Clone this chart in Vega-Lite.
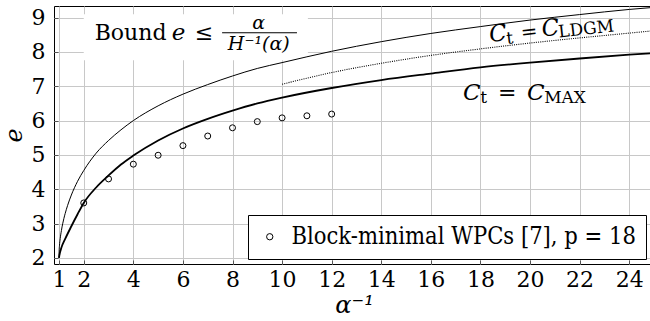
{
  "$schema": "https://vega.github.io/schema/vega-lite/v6.json",
  "width": 600,
  "height": 258,
  "autosize": {"type": "none"},
  "padding": {"left": 54, "top": 6, "right": 0, "bottom": 57},
  "background": "white",
  "config": {
    "view": {"stroke": "black", "strokeWidth": 1},
    "font": "DejaVu Serif",
    "axis": {
      "labelFont": "DejaVu Serif",
      "labelFontSize": 22,
      "labelColor": "black",
      "titleFont": "DejaVu Serif",
      "titleFontSize": 24,
      "titleFontWeight": "normal",
      "titleFontStyle": "italic",
      "titleColor": "black",
      "gridColor": "#c8c8c8",
      "gridOpacity": 1,
      "gridWidth": 1,
      "domain": false,
      "ticks": true,
      "tickSize": -4,
      "tickColor": "#555555",
      "tickWidth": 1
    }
  },
  "datasets": {
    "bound": [
      {"x": 1, "y": 2}, {"x": 1.01, "y": 2.245}, {"x": 1.02, "y": 2.35}, {"x": 1.05, "y": 2.56},
      {"x": 1.1, "y": 2.8}, {"x": 1.2, "y": 3.15}, {"x": 1.25, "y": 3.29}, {"x": 1.35, "y": 3.53},
      {"x": 1.5, "y": 3.83}, {"x": 1.75, "y": 4.23}, {"x": 2, "y": 4.545}, {"x": 2.5, "y": 5.05},
      {"x": 3, "y": 5.42}, {"x": 3.5, "y": 5.73}, {"x": 4, "y": 6.0}, {"x": 5, "y": 6.43},
      {"x": 6, "y": 6.77}, {"x": 7, "y": 7.05}, {"x": 8, "y": 7.3}, {"x": 9, "y": 7.52},
      {"x": 10, "y": 7.69}, {"x": 12, "y": 8.02}, {"x": 14, "y": 8.3}, {"x": 16, "y": 8.54},
      {"x": 18, "y": 8.74}, {"x": 20, "y": 8.93}, {"x": 22, "y": 9.09}, {"x": 24, "y": 9.24},
      {"x": 25, "y": 9.3}
    ],
    "cmax": [
      {"x": 1, "y": 2}, {"x": 1.03, "y": 2.12}, {"x": 1.1, "y": 2.3}, {"x": 1.25, "y": 2.55},
      {"x": 1.5, "y": 2.92}, {"x": 1.75, "y": 3.27}, {"x": 2, "y": 3.6}, {"x": 2.5, "y": 4.05},
      {"x": 3, "y": 4.4}, {"x": 3.5, "y": 4.72}, {"x": 4, "y": 4.98}, {"x": 5, "y": 5.42},
      {"x": 6, "y": 5.77}, {"x": 7, "y": 6.05}, {"x": 8, "y": 6.29}, {"x": 9, "y": 6.5},
      {"x": 10, "y": 6.67}, {"x": 12, "y": 6.95}, {"x": 14, "y": 7.18}, {"x": 16, "y": 7.37},
      {"x": 18, "y": 7.55}, {"x": 20, "y": 7.69}, {"x": 22, "y": 7.81}, {"x": 24, "y": 7.92},
      {"x": 25, "y": 7.97}
    ],
    "cldgm": [
      {"x": 10, "y": 7.06}, {"x": 12, "y": 7.4}, {"x": 14, "y": 7.67}, {"x": 16, "y": 7.9},
      {"x": 18, "y": 8.09}, {"x": 20, "y": 8.26}, {"x": 22, "y": 8.41}, {"x": 24, "y": 8.55},
      {"x": 25, "y": 8.62}
    ],
    "wpc": [
      {"x": 2, "y": 3.6, "series": "Block-minimal WPCs [7], p = 18"},
      {"x": 3, "y": 4.3, "series": "Block-minimal WPCs [7], p = 18"},
      {"x": 4, "y": 4.73, "series": "Block-minimal WPCs [7], p = 18"},
      {"x": 5, "y": 4.99, "series": "Block-minimal WPCs [7], p = 18"},
      {"x": 6, "y": 5.27, "series": "Block-minimal WPCs [7], p = 18"},
      {"x": 7, "y": 5.55, "series": "Block-minimal WPCs [7], p = 18"},
      {"x": 8, "y": 5.79, "series": "Block-minimal WPCs [7], p = 18"},
      {"x": 9, "y": 5.97, "series": "Block-minimal WPCs [7], p = 18"},
      {"x": 10, "y": 6.08, "series": "Block-minimal WPCs [7], p = 18"},
      {"x": 11, "y": 6.14, "series": "Block-minimal WPCs [7], p = 18"},
      {"x": 12, "y": 6.19, "series": "Block-minimal WPCs [7], p = 18"}
    ],
    "box": [{"x": 2.0, "x2": 11.04, "y": 9.1, "y2": 7.76}],
    "fracbar": [{"x": 7.58, "x2": 10.6, "y": 8.56}],
    "rotItalic": [{"x": 18.39, "y": 8.29, "t": "C"}, {"x": 20.5, "y": 8.45, "t": "C"}],
    "rotNormal": [{"x": 19.66, "y": 8.37, "t": "="}],
    "rotSmall": [{"x": 19.07, "y": 8.23, "t": "t"}, {"x": 21.17, "y": 8.42, "t": "LDGM"}],
    "italicText": [{"x": 17.3, "y": 6.6, "t": "C"}, {"x": 19.88, "y": 6.6, "t": "C"}, {"x": 5.55, "y": 8.35, "t": "e"}],
    "normalText": [{"x": 18.71, "y": 6.6, "t": "="}, {"x": 2.44, "y": 8.35, "t": "Bound"}, {"x": 6.48, "y": 8.35, "t": "≤"}],
    "smallText": [{"x": 17.99, "y": 6.5, "t": "t"}, {"x": 20.57, "y": 6.5, "t": "MAX"}],
    "fracText": [{"x": 9.06, "y": 8.66, "t": "α"}, {"x": 9.06, "y": 8.06, "t": "H⁻¹(α)"}]
  },
  "encoding": {
    "x": {
      "field": "x",
      "type": "quantitative",
      "scale": {"domain": [0.8, 25], "nice": false, "zero": false},
      "axis": {
        "values": [1, 2, 4, 6, 8, 10, 12, 14, 16, 18, 20, 22, 24],
        "title": "α⁻¹",
        "labelPadding": 9,
        "titlePadding": 3,
        "labelFlush": false,
        "labelOverlap": false,
        "grid": true
      }
    },
    "y": {
      "field": "y",
      "type": "quantitative",
      "scale": {"domain": [1.82, 9.34], "nice": false, "zero": false},
      "axis": {
        "values": [2, 3, 4, 5, 6, 7, 8, 9],
        "title": "e",
        "labelPadding": 13,
        "titlePadding": 5,
        "labelFlush": false,
        "labelOverlap": false,
        "grid": true
      }
    }
  },
  "layer": [
    {
      "data": {"name": "box"},
      "mark": {"type": "rect", "fill": "white", "stroke": null},
      "encoding": {"x2": {"field": "x2"}, "y2": {"field": "y2"}}
    },
    {
      "data": {"name": "bound"},
      "mark": {"type": "line", "color": "black", "strokeWidth": 1, "clip": true, "interpolate": "monotone"},
      "encoding": {}
    },
    {
      "data": {"name": "cmax"},
      "mark": {"type": "line", "color": "black", "strokeWidth": 1.8, "clip": true, "interpolate": "monotone"},
      "encoding": {}
    },
    {
      "data": {"name": "cldgm"},
      "mark": {"type": "line", "color": "black", "strokeWidth": 1.1, "strokeDash": [1, 1.2], "clip": true, "interpolate": "monotone"},
      "encoding": {}
    },
    {
      "data": {"name": "wpc"},
      "mark": {"type": "point", "filled": false, "color": "black", "size": 36, "strokeWidth": 1, "opacity": 1},
      "encoding": {
        "shape": {
          "field": "series",
          "type": "nominal",
          "scale": {"range": ["circle"]},
          "legend": {
            "orient": "none",
            "legendX": 194,
            "legendY": 209,
            "title": null,
            "labelFont": "'DejaVu Serif Condensed', 'DejaVu Serif'",
            "labelFontSize": 23.5,
            "labelColor": "black",
            "labelLimit": 700,
            "labelOffset": 10,
            "symbolSize": 40,
            "symbolStrokeColor": "black",
            "symbolStrokeWidth": 1,
            "symbolFillColor": "white",
            "strokeColor": "black",
            "fillColor": "white",
            "padding": 10,
            "cornerRadius": 0
          }
        }
      }
    },
    {
      "data": {"name": "fracbar"},
      "mark": {"type": "rule", "color": "black", "strokeWidth": 1},
      "encoding": {"x2": {"field": "x2"}}
    },
    {
      "data": {"name": "rotItalic"},
      "mark": {"type": "text", "align": "left", "baseline": "alphabetic", "font": "DejaVu Serif", "fontStyle": "italic", "fontSize": 23, "angle": 353.5, "color": "black"},
      "encoding": {"text": {"field": "t"}}
    },
    {
      "data": {"name": "rotNormal"},
      "mark": {"type": "text", "align": "left", "baseline": "alphabetic", "font": "DejaVu Serif", "fontSize": 20, "angle": 353.5, "color": "black"},
      "encoding": {"text": {"field": "t"}}
    },
    {
      "data": {"name": "rotSmall"},
      "mark": {"type": "text", "align": "left", "baseline": "alphabetic", "font": "DejaVu Serif", "fontSize": 17, "angle": 353.5, "color": "black"},
      "encoding": {"text": {"field": "t"}}
    },
    {
      "data": {"name": "italicText"},
      "mark": {"type": "text", "align": "left", "baseline": "alphabetic", "font": "DejaVu Serif", "fontStyle": "italic", "fontSize": 23, "color": "black"},
      "encoding": {"text": {"field": "t"}}
    },
    {
      "data": {"name": "normalText"},
      "mark": {"type": "text", "align": "left", "baseline": "alphabetic", "font": "DejaVu Serif", "fontSize": 22, "color": "black"},
      "encoding": {"text": {"field": "t"}}
    },
    {
      "data": {"name": "smallText"},
      "mark": {"type": "text", "align": "left", "baseline": "alphabetic", "font": "DejaVu Serif", "fontSize": 17, "color": "black"},
      "encoding": {"text": {"field": "t"}}
    },
    {
      "data": {"name": "fracText"},
      "mark": {"type": "text", "align": "center", "baseline": "alphabetic", "font": "DejaVu Serif", "fontStyle": "italic", "fontSize": 19, "color": "black"},
      "encoding": {"text": {"field": "t"}}
    }
  ]
}
